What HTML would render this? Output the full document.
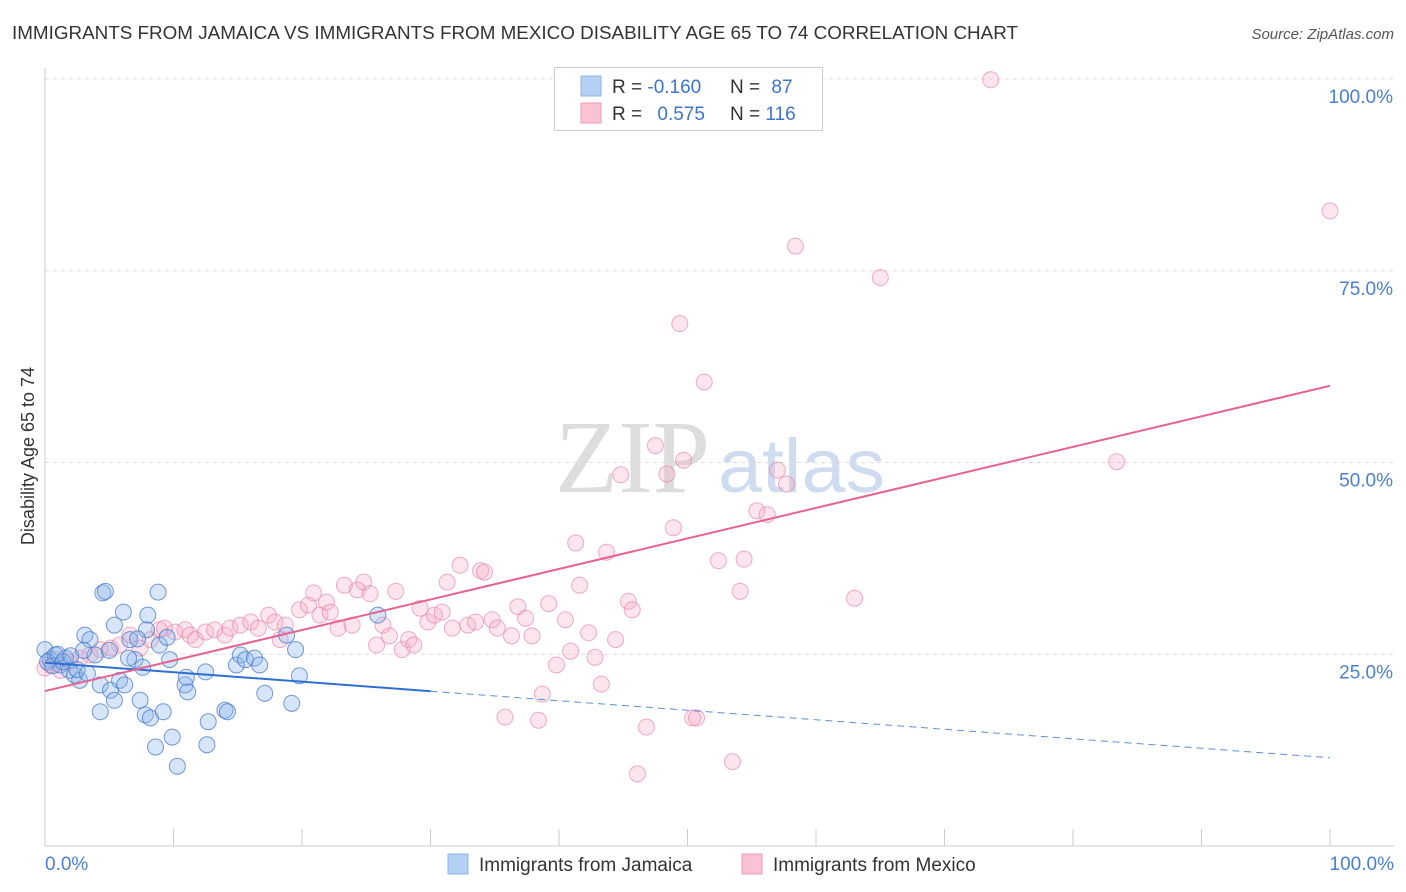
<!DOCTYPE html>
<html><head><meta charset="utf-8"><style>
body{margin:0;background:#fff;width:1406px;height:892px;overflow:hidden;font-family:"Liberation Sans",sans-serif}
svg{position:absolute;left:0;top:0}
</style></head><body>
<svg id="chart" width="1406" height="892">
<text x="12" y="39" font-size="18" fill="#333" textLength="1006" lengthAdjust="spacingAndGlyphs">IMMIGRANTS FROM JAMAICA VS IMMIGRANTS FROM MEXICO DISABILITY AGE 65 TO 74 CORRELATION CHART</text>
<text x="1394" y="39" font-size="15" fill="#555" font-style="italic" text-anchor="end">Source: ZipAtlas.com</text>
<text x="34" y="456" font-size="18" fill="#333" text-anchor="middle" transform="rotate(-90 34 456)">Disability Age 65 to 74</text>
<text x="555" y="492" font-size="104" fill="#ddd" textLength="155" lengthAdjust="spacingAndGlyphs" font-family="Liberation Serif,serif">ZIP</text>
<text x="718" y="492" font-size="76" fill="#cfdcf0" textLength="167" lengthAdjust="spacingAndGlyphs">atlas</text>
<g id="grid"></g><g id="ticks"></g><g id="pts"></g><g id="lines"></g>
<g>
<rect x="554.5" y="67.5" width="268" height="63" fill="#fff" stroke="#ccc"/>
<rect x="581" y="76" width="20" height="20" fill="#b5d0f5" stroke="#8fb4e8"/>
<rect x="581" y="103" width="20" height="20" fill="#f9c3d3" stroke="#f09ab5"/>
<text x="612" y="93" font-size="19" fill="#333">R = <tspan fill="#3d74d0">-0.160</tspan></text>
<text x="730" y="93" font-size="19" fill="#333">N = <tspan fill="#3d74d0" dx="6">87</tspan></text>
<text x="612" y="120" font-size="19" fill="#333">R = <tspan fill="#3d74d0" dx="10">0.575</tspan></text>
<text x="730" y="120" font-size="19" fill="#333">N = <tspan fill="#3d74d0">116</tspan></text>
</g>
<g>
<rect x="448" y="854" width="20" height="20" fill="#b5d0f5" stroke="#8fb4e8"/>
<text x="479" y="871" font-size="19" fill="#333">Immigrants from Jamaica</text>
<rect x="742" y="854" width="20" height="20" fill="#f9c3d3" stroke="#f09ab5"/>
<text x="773" y="871" font-size="19" fill="#333">Immigrants from Mexico</text>
</g>
</svg>
<script>
const yTicks=[25,50,75,100];
const yTickLabels=["25.0%","50.0%","75.0%","100.0%"];
const xTickLabels=["0.0%","100.0%"];
const jamX=[0,0.4,0.8,1.2,1.6,1.9,2.3,2.7,3.1,3.5,3.9,4.3,4.3,4.5,4.7,5.1,5.4,5.4,5.8,6.1,6.2,6.6,7.0,7.4,7.6,7.8,7.9,8.0,8.2,8.6,8.8,8.9,9.2,9.7,9.9,10.3,10.9,11.1,12.5,12.6,12.7,14.0,14.2,14.9,15.2,15.6,16.3,16.7,17.1,18.8,19.5,19.8,19.2,25.9,0.2,0.6,1.0,1.4,2.0,2.5,3.0,3.3,5.0,6.5,7.2,9.5,11.0];
const jamY=[25.6,24.3,24.9,23.6,24.5,22.9,22.3,21.6,27.5,26.9,24.9,21.0,17.5,33.0,33.2,20.3,19.0,28.8,21.6,30.5,21.0,26.9,24.3,19.0,23.3,17.1,28.2,30.1,16.7,12.9,33.1,26.2,17.5,24.3,14.2,10.4,21.0,20.1,22.7,13.2,16.2,17.7,17.5,23.6,24.9,24.3,24.5,23.6,19.9,27.5,25.6,22.2,18.6,30.1,24,23.5,25,24,24.8,23,25.5,22.5,25.5,24.5,27,27.2,22];
const mexX=[0,0.4,0.8,1.2,1.9,2.7,3.5,4.3,5.1,5.8,6.6,7.4,8.2,8.9,9.3,10.1,10.9,11.3,11.7,12.5,13.2,14.0,14.4,15.2,16.0,16.6,17.4,17.9,18.7,18.3,19.8,20.5,20.9,21.4,21.9,22.2,22.8,23.3,23.9,24.3,24.8,25.3,25.8,26.3,26.8,27.3,27.8,28.3,28.7,29.2,29.8,30.3,30.9,31.3,31.7,32.3,32.9,33.5,33.9,34.2,34.8,35.2,35.8,36.3,36.8,37.4,37.9,38.4,38.7,39.2,39.8,40.5,40.9,41.3,41.6,42.3,42.8,43.3,43.7,44.4,44.8,45.4,45.7,46.1,46.8,47.5,48.4,48.9,49.4,49.7,50.4,50.7,51.3,52.4,53.5,54.1,54.4,55.4,56.2,57.0,57.7,58.4,63.0,65.0,73.6,83.4,100];
const mexY=[23.2,23.6,24.3,22.9,24.0,24.5,24.9,25.6,25.8,26.2,27.5,25.8,26.9,28.2,28.4,27.9,28.2,27.5,26.9,27.9,28.2,27.5,28.4,28.8,29.2,28.4,30.1,29.2,28.8,26.9,30.8,31.4,33.0,30.1,31.8,30.5,28.4,34.0,28.8,33.4,34.4,32.9,26.2,28.8,27.4,33.2,25.6,26.9,26.2,31.0,29.2,30.1,30.5,34.4,28.4,36.6,28.8,29.2,35.9,35.7,29.5,28.4,16.8,27.4,31.2,29.7,27.4,16.4,19.8,31.6,23.6,29.5,25.4,39.5,34.0,27.8,24.6,21.1,38.3,26.9,48.4,31.9,30.8,9.4,15.5,52.2,48.5,41.5,68.1,50.3,16.7,16.7,60.5,37.2,11.0,33.2,37.4,43.7,43.2,49.0,47.2,78.2,32.3,74.1,99.9,50.1,82.8];
const jamTrend=[23.9,11.5], mexTrend=[20.2,60.0];
const NS="http://www.w3.org/2000/svg";
const X=v=>45+v*12.85, Y=v=>846-v*7.67;
function mk(tag,attrs,parent){const e=document.createElementNS(NS,tag);for(const k in attrs)e.setAttribute(k,attrs[k]);document.getElementById(parent).appendChild(e);return e;}
yTicks.forEach((t,i)=>{
 const g=mk('line',{x1:45,x2:1394,y1:Y(t),y2:Y(t),stroke:'#ddd','stroke-dasharray':'4,4'},'grid');
 
 
 const l=mk('text',{x:1393,y:Y(t)+24,'font-size':19,fill:'#4a7fd4','text-anchor':'end'},'ticks');l.textContent=yTickLabels[i];
 
 
});
const ax=mk('line',{x1:45,x2:1394,y1:846,y2:846,stroke:'#ccc'},'ticks');


const ay=mk('line',{x1:45,x2:45,y1:68,y2:846,stroke:'#ccc'},'ticks');


for(let i=0;i<=10;i++){const t=mk('line',{x1:X(i*10),x2:X(i*10),y1:829,y2:846,stroke:'#ccc'},'ticks');
 
 }
[[0,'start',45],[100,'end',1394]].forEach((d,i)=>{const t=mk('text',{x:d[2],y:870,'font-size':19,fill:'#4a7fd4','text-anchor':d[1]},'ticks');t.textContent=xTickLabels[i];
 
 });
mexX.forEach((x,i)=>{const c=mk('circle',{cx:X(x),cy:Y(mexY[i]),r:8,fill:'rgba(246,170,195,0.3)',stroke:'rgba(232,130,165,0.65)','stroke-width':1},'pts');
 
 });
jamX.forEach((x,i)=>{const c=mk('circle',{cx:X(x),cy:Y(jamY[i]),r:8,fill:'rgba(140,180,235,0.35)',stroke:'rgba(70,120,205,0.75)','stroke-width':1},'pts');
 
 });
const jt=v=>jamTrend[0]+(jamTrend[1]-jamTrend[0])*v/100;
const l1=mk('line',{x1:X(0),y1:Y(jt(0)),x2:X(30),y2:Y(jt(30)),stroke:'#2f6fd1','stroke-width':2},'lines');


const l2=mk('line',{x1:X(30),y1:Y(jt(30)),x2:X(100),y2:Y(jt(100)),stroke:'#5b8fd8','stroke-width':1,'stroke-dasharray':'7,5'},'lines');


const l3=mk('line',{x1:X(0),y1:Y(mexTrend[0]),x2:X(100),y2:Y(mexTrend[1]),stroke:'#e7628f','stroke-width':2},'lines');


</script>
</body></html>
